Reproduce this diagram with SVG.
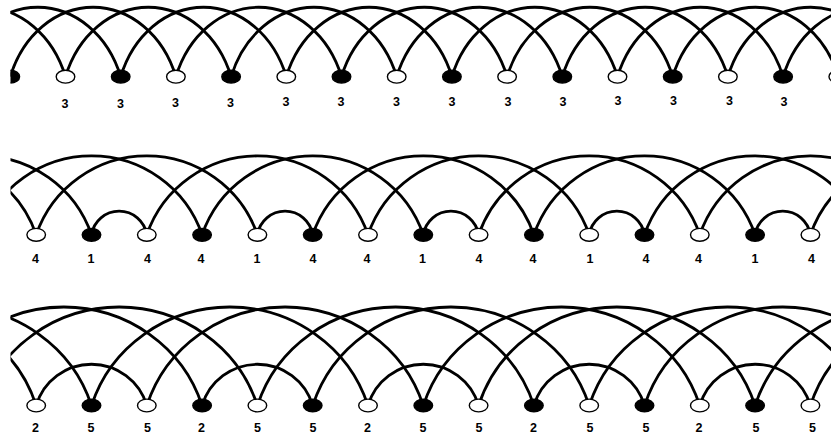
<svg xmlns="http://www.w3.org/2000/svg" width="831" height="437" viewBox="0 0 831 437">
<defs>
<clipPath id="clip"><rect x="10.5" y="0" width="821" height="437"/></clipPath>
<style>
.arc{fill:none;stroke:#000;stroke-width:2.8}
.w{fill:#fff;stroke:#000;stroke-width:1.4}
.b{fill:#000;stroke:#000;stroke-width:1.4}
ellipse{rx:9.3px;ry:6.4px}
text{font-family:"Liberation Sans",Arial,sans-serif;font-weight:bold;font-size:12.5px;text-anchor:middle;fill:#000}
</style>
</defs>
<rect width="831" height="437" fill="#fff"/>
<g clip-path="url(#clip)">
<g id="connectors">
<!-- row 1: span 3 -->
<path class="arc" d="M-100.1 76.7A88 105 0 0 1 65.5 76.7"/>
<path class="arc" d="M-44.9 76.7A88 105 0 0 1 120.7 76.7"/>
<path class="arc" d="M10.3 76.7A88 105 0 0 1 175.9 76.7"/>
<path class="arc" d="M65.5 76.7A88 105 0 0 1 231.1 76.7"/>
<path class="arc" d="M120.7 76.7A88 105 0 0 1 286.3 76.7"/>
<path class="arc" d="M175.9 76.7A88 105 0 0 1 341.5 76.7"/>
<path class="arc" d="M231.1 76.7A88 105 0 0 1 396.7 76.7"/>
<path class="arc" d="M286.3 76.7A88 105 0 0 1 451.9 76.7"/>
<path class="arc" d="M341.5 76.7A88 105 0 0 1 507.1 76.7"/>
<path class="arc" d="M396.7 76.7A88 105 0 0 1 562.3 76.7"/>
<path class="arc" d="M451.9 76.7A88 105 0 0 1 617.5 76.7"/>
<path class="arc" d="M507.1 76.7A88 105 0 0 1 672.7 76.7"/>
<path class="arc" d="M562.3 76.7A88 105 0 0 1 727.9 76.7"/>
<path class="arc" d="M617.5 76.7A88 105 0 0 1 783.1 76.7"/>
<path class="arc" d="M672.7 76.7A88 105 0 0 1 838.3 76.7"/>
<path class="arc" d="M727.9 76.7A88 105 0 0 1 893.5 76.7"/>
<path class="arc" d="M783.1 76.7A88 105 0 0 1 948.7 76.7"/>
<!-- row 2: span 4 -->
<path class="arc" d="M-185 234.8A117 117 0 0 1 36.2 234.8"/>
<path class="arc" d="M-129.7 234.8A117 117 0 0 1 91.5 234.8"/>
<path class="arc" d="M-19.1 234.8A117 117 0 0 1 202.1 234.8"/>
<path class="arc" d="M36.2 234.8A117 117 0 0 1 257.4 234.8"/>
<path class="arc" d="M146.8 234.8A117 117 0 0 1 368 234.8"/>
<path class="arc" d="M202.1 234.8A117 117 0 0 1 423.3 234.8"/>
<path class="arc" d="M312.7 234.8A117 117 0 0 1 533.9 234.8"/>
<path class="arc" d="M368 234.8A117 117 0 0 1 589.2 234.8"/>
<path class="arc" d="M478.6 234.8A117 117 0 0 1 699.8 234.8"/>
<path class="arc" d="M533.9 234.8A117 117 0 0 1 755.1 234.8"/>
<path class="arc" d="M644.5 234.8A117 117 0 0 1 865.7 234.8"/>
<path class="arc" d="M699.8 234.8A117 117 0 0 1 921 234.8"/>
<path class="arc" d="M810.4 234.8A117 117 0 0 1 1031.6 234.8"/>
<!-- row 2: span 1 -->
<path class="arc" d="M91.5 234.8A28 28 0 0 1 146.8 234.8"/>
<path class="arc" d="M257.4 234.8A28 28 0 0 1 312.7 234.8"/>
<path class="arc" d="M423.3 234.8A28 28 0 0 1 478.6 234.8"/>
<path class="arc" d="M589.2 234.8A28 28 0 0 1 644.5 234.8"/>
<path class="arc" d="M755.1 234.8A28 28 0 0 1 810.4 234.8"/>
<!-- row 3: span 2 -->
<path class="arc" d="M36.2 405.5A57.7 57.7 0 0 1 146.8 405.5"/>
<path class="arc" d="M202.1 405.5A57.7 57.7 0 0 1 312.7 405.5"/>
<path class="arc" d="M368 405.5A57.7 57.7 0 0 1 478.6 405.5"/>
<path class="arc" d="M533.9 405.5A57.7 57.7 0 0 1 644.5 405.5"/>
<path class="arc" d="M699.8 405.5A57.7 57.7 0 0 1 810.4 405.5"/>
<!-- row 3: span 5 -->
<path class="arc" d="M-240.3 405.5A145 141 0 0 1 36.2 405.5"/>
<path class="arc" d="M-185 405.5A145 141 0 0 1 91.5 405.5"/>
<path class="arc" d="M-74.4 405.5A145 141 0 0 1 202.1 405.5"/>
<path class="arc" d="M-19.1 405.5A145 141 0 0 1 257.4 405.5"/>
<path class="arc" d="M91.5 405.5A145 141 0 0 1 368 405.5"/>
<path class="arc" d="M146.8 405.5A145 141 0 0 1 423.3 405.5"/>
<path class="arc" d="M257.4 405.5A145 141 0 0 1 533.9 405.5"/>
<path class="arc" d="M312.7 405.5A145 141 0 0 1 589.2 405.5"/>
<path class="arc" d="M423.3 405.5A145 141 0 0 1 699.8 405.5"/>
<path class="arc" d="M478.6 405.5A145 141 0 0 1 755.1 405.5"/>
<path class="arc" d="M589.2 405.5A145 141 0 0 1 865.7 405.5"/>
<path class="arc" d="M644.5 405.5A145 141 0 0 1 921 405.5"/>
<path class="arc" d="M755.1 405.5A145 141 0 0 1 1031.6 405.5"/>
<path class="arc" d="M810.4 405.5A145 141 0 0 1 1086.9 405.5"/>
</g>
<!-- row 1 nodes -->
<g id="r1n-1"><ellipse class="b" cx="10.3" cy="76.7" rx="9.3" ry="6.4"/></g>
<g id="r1n0"><ellipse class="w" cx="65.5" cy="76.7" rx="9.3" ry="6.4"/><text x="65" y="107.5">3</text></g>
<g id="r1n1"><ellipse class="b" cx="120.7" cy="76.7" rx="9.3" ry="6.4"/><text x="120.5" y="107.5">3</text></g>
<g id="r1n2"><ellipse class="w" cx="175.9" cy="76.7" rx="9.3" ry="6.4"/><text x="175.5" y="107">3</text></g>
<g id="r1n3"><ellipse class="b" cx="231.1" cy="76.7" rx="9.3" ry="6.4"/><text x="230.5" y="107">3</text></g>
<g id="r1n4"><ellipse class="w" cx="286.3" cy="76.7" rx="9.3" ry="6.4"/><text x="286" y="106">3</text></g>
<g id="r1n5"><ellipse class="b" cx="341.5" cy="76.7" rx="9.3" ry="6.4"/><text x="341" y="106">3</text></g>
<g id="r1n6"><ellipse class="w" cx="396.7" cy="76.7" rx="9.3" ry="6.4"/><text x="396.5" y="106">3</text></g>
<g id="r1n7"><ellipse class="b" cx="451.9" cy="76.7" rx="9.3" ry="6.4"/><text x="452" y="106">3</text></g>
<g id="r1n8"><ellipse class="w" cx="507.1" cy="76.7" rx="9.3" ry="6.4"/><text x="508" y="105.5">3</text></g>
<g id="r1n9"><ellipse class="b" cx="562.3" cy="76.7" rx="9.3" ry="6.4"/><text x="563" y="105.5">3</text></g>
<g id="r1n10"><ellipse class="w" cx="617.5" cy="76.7" rx="9.3" ry="6.4"/><text x="618" y="104.5">3</text></g>
<g id="r1n11"><ellipse class="b" cx="672.7" cy="76.7" rx="9.3" ry="6.4"/><text x="673.5" y="105">3</text></g>
<g id="r1n12"><ellipse class="w" cx="727.9" cy="76.7" rx="9.3" ry="6.4"/><text x="729.5" y="104.5">3</text></g>
<g id="r1n13"><ellipse class="b" cx="783.1" cy="76.7" rx="9.3" ry="6.4"/><text x="784" y="105.5">3</text></g>
<g id="r1n14"><ellipse class="w" cx="838.3" cy="76.7" rx="9.3" ry="6.4"/></g>
<!-- row 2 nodes -->
<g id="r2n0"><ellipse class="w" cx="36.2" cy="234.8" rx="9.3" ry="6.4"/><text x="35.5" y="263">4</text></g>
<g id="r2n1"><ellipse class="b" cx="91.5" cy="234.8" rx="9.3" ry="6.4"/><text x="91" y="263">1</text></g>
<g id="r2n2"><ellipse class="w" cx="146.8" cy="234.8" rx="9.3" ry="6.4"/><text x="147.5" y="263">4</text></g>
<g id="r2n3"><ellipse class="b" cx="202.1" cy="234.8" rx="9.3" ry="6.4"/><text x="201" y="263">4</text></g>
<g id="r2n4"><ellipse class="w" cx="257.4" cy="234.8" rx="9.3" ry="6.4"/><text x="257" y="263">1</text></g>
<g id="r2n5"><ellipse class="b" cx="312.7" cy="234.8" rx="9.3" ry="6.4"/><text x="313" y="263">4</text></g>
<g id="r2n6"><ellipse class="w" cx="368" cy="234.8" rx="9.3" ry="6.4"/><text x="367" y="263">4</text></g>
<g id="r2n7"><ellipse class="b" cx="423.3" cy="234.8" rx="9.3" ry="6.4"/><text x="422.5" y="263">1</text></g>
<g id="r2n8"><ellipse class="w" cx="478.6" cy="234.8" rx="9.3" ry="6.4"/><text x="479" y="263">4</text></g>
<g id="r2n9"><ellipse class="b" cx="533.9" cy="234.8" rx="9.3" ry="6.4"/><text x="533" y="263">4</text></g>
<g id="r2n10"><ellipse class="w" cx="589.2" cy="234.8" rx="9.3" ry="6.4"/><text x="590" y="263">1</text></g>
<g id="r2n11"><ellipse class="b" cx="644.5" cy="234.8" rx="9.3" ry="6.4"/><text x="646" y="263">4</text></g>
<g id="r2n12"><ellipse class="w" cx="699.8" cy="234.8" rx="9.3" ry="6.4"/><text x="698.5" y="263">4</text></g>
<g id="r2n13"><ellipse class="b" cx="755.1" cy="234.8" rx="9.3" ry="6.4"/><text x="755" y="263">1</text></g>
<g id="r2n14"><ellipse class="w" cx="810.4" cy="234.8" rx="9.3" ry="6.4"/><text x="811.5" y="263">4</text></g>
<!-- row 3 nodes -->
<g id="r3n0"><ellipse class="w" cx="36.2" cy="405.5" rx="9.3" ry="6.4"/><text x="35.5" y="431.5">2</text></g>
<g id="r3n1"><ellipse class="b" cx="91.5" cy="405.5" rx="9.3" ry="6.4"/><text x="91" y="431.5">5</text></g>
<g id="r3n2"><ellipse class="w" cx="146.8" cy="405.5" rx="9.3" ry="6.4"/><text x="147.5" y="431.5">5</text></g>
<g id="r3n3"><ellipse class="b" cx="202.1" cy="405.5" rx="9.3" ry="6.4"/><text x="201.5" y="431.5">2</text></g>
<g id="r3n4"><ellipse class="w" cx="257.4" cy="405.5" rx="9.3" ry="6.4"/><text x="257.5" y="431.5">5</text></g>
<g id="r3n5"><ellipse class="b" cx="312.7" cy="405.5" rx="9.3" ry="6.4"/><text x="313" y="431.5">5</text></g>
<g id="r3n6"><ellipse class="w" cx="368" cy="405.5" rx="9.3" ry="6.4"/><text x="367.5" y="431.5">2</text></g>
<g id="r3n7"><ellipse class="b" cx="423.3" cy="405.5" rx="9.3" ry="6.4"/><text x="423" y="431.5">5</text></g>
<g id="r3n8"><ellipse class="w" cx="478.6" cy="405.5" rx="9.3" ry="6.4"/><text x="479" y="431.5">5</text></g>
<g id="r3n9"><ellipse class="b" cx="533.9" cy="405.5" rx="9.3" ry="6.4"/><text x="533.5" y="431.5">2</text></g>
<g id="r3n10"><ellipse class="w" cx="589.2" cy="405.5" rx="9.3" ry="6.4"/><text x="590" y="431.5">5</text></g>
<g id="r3n11"><ellipse class="b" cx="644.5" cy="405.5" rx="9.3" ry="6.4"/><text x="646" y="431.5">5</text></g>
<g id="r3n12"><ellipse class="w" cx="699.8" cy="405.5" rx="9.3" ry="6.4"/><text x="699" y="431.5">2</text></g>
<g id="r3n13"><ellipse class="b" cx="755.1" cy="405.5" rx="9.3" ry="6.4"/><text x="756" y="431.5">5</text></g>
<g id="r3n14"><ellipse class="w" cx="810.4" cy="405.5" rx="9.3" ry="6.4"/><text x="812.5" y="431.5">5</text></g>
</g>
</svg>
